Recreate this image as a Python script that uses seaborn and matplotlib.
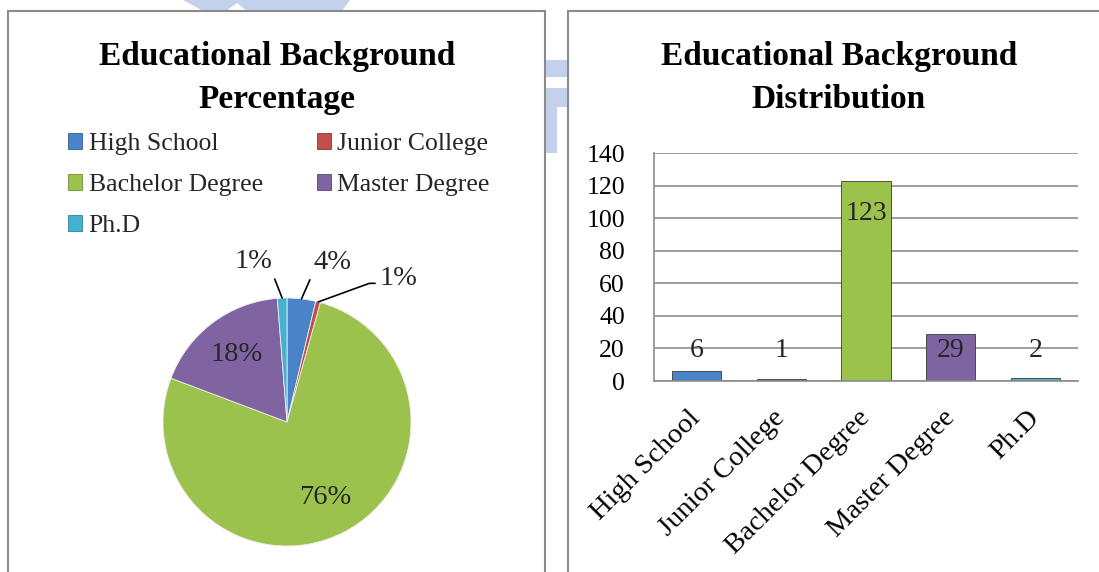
import matplotlib
matplotlib.use("Agg")
import matplotlib.pyplot as plt
import seaborn as sns
import numpy as np
import pandas as pd
from matplotlib.patches import Rectangle, Patch, Polygon

# ---------------- data ----------------
categories = ["High School", "Junior College", "Bachelor Degree", "Master Degree", "Ph.D"]
counts = [6, 1, 123, 29, 2]
y_ticks = [0, 20, 40, 60, 80, 100, 120, 140]
pie_title = ["Educational Background", "Percentage"]
bar_title = ["Educational Background", "Distribution"]

# ---------------- style ----------------
colors = ["#4A84C8", "#C0504D", "#9CC24E", "#8064A2", "#45B0D0"]
edge_colors = ["#2F5F96", "#8E3230", "#6E8E30", "#5A4478", "#2D8299"]
watermark = "#c3d1ec"

sns.set_theme(style="white")
plt.rcParams["font.family"] = ["Liberation Serif", "DejaVu Serif"]

W, H = 1099, 572
fig = plt.figure(figsize=(W / 100, H / 100), dpi=100)
fig.patch.set_facecolor("white")


def fx(px):
    return px / W


def fy(py):
    return 1 - py / H


def fpoly(pts):
    return Polygon([(fx(a), fy(b)) for a, b in pts], closed=True,
                   transform=fig.transFigure, facecolor=watermark,
                   edgecolor="none", zorder=-2)


# faint background watermark of the page behind the charts
for pts in [
    [(183, 0), (350, 0), (342, 11), (247, 11), (237, 3), (226, 11), (203, 11)],
    [(545, 60), (569, 60), (569, 77), (545, 77)],
    [(545, 88), (569, 88), (569, 107), (557, 107), (557, 153), (545, 153)],
]:
    fig.patches.append(fpoly(pts))

# panel borders
for x0, x1 in [(8, 545), (568, 1130)]:
    fig.patches.append(Rectangle((fx(x0), fy(620)), (x1 - x0) / W, (620 - 11) / H,
                                 transform=fig.transFigure, facecolor="white",
                                 edgecolor="#8a8a8a", linewidth=1.5, zorder=-1))

# ---------------- titles ----------------
for cx, lines in [(277, pie_title), (839, bar_title)]:
    for line, base in zip(lines, [65, 108]):
        fig.text(fx(cx), fy(base), line, ha="center", va="baseline",
                 fontsize=24, fontweight="bold", color="black")

# ---------------- pie ----------------
R = 124
pcx, pcy = 287, 422
ax_pie = fig.add_axes([fx(pcx - R), fy(pcy + R), 2 * R / W, 2 * R / H])
wedges, _ = ax_pie.pie(counts, colors=colors, startangle=90, counterclock=False,
                       radius=1, wedgeprops=dict(edgecolor="#eeeeee", linewidth=0.6))
ax_pie.set_xlim(-1, 1)
ax_pie.set_ylim(-1, 1)
ax_pie.axis("off")

total = sum(counts)
outside_layout = {
    "High School": dict(offset=(22, 26), relpos=(0.0, 0.1), cs="arc3"),
    "Junior College": dict(offset=(58, 17), relpos=(0.0, 0.3), cs="angle,angleA=0,angleB=20,rad=0"),
    "Ph.D": dict(offset=(-21, 26), relpos=(1.0, 0.1), cs="arc3"),
}
for w, cat, c in zip(wedges, categories, counts):
    pct = c / total * 100
    label = f"{pct:.0f}%"
    th = np.deg2rad((w.theta1 + w.theta2) / 2)
    if pct >= 10:
        ax_pie.text(0.68 * np.cos(th), 0.68 * np.sin(th), label, ha="center",
                    va="center", fontsize=20.5)
    else:
        lay = outside_layout[cat]
        ax_pie.annotate(label, xy=(np.cos(th), np.sin(th)), xytext=lay["offset"],
                        textcoords="offset points", ha="center", va="center",
                        fontsize=20.5,
                        arrowprops=dict(arrowstyle="-", color="black", lw=1.2,
                                        shrinkA=1, shrinkB=0, relpos=lay["relpos"],
                                        connectionstyle=lay["cs"]))

# legend (row-wise order)
order = [0, 2, 4, 1, 3]
handles = [Patch(facecolor=colors[i], edgecolor=edge_colors[i], linewidth=0.6) for i in order]
labels = [categories[i] for i in order]
fig.legend(handles, labels, loc="upper left", bbox_to_anchor=(fx(68), fy(133)),
           ncol=2, frameon=False, fontsize=18.5, handlelength=0.55, handleheight=0.55,
           handletextpad=0.25, columnspacing=2.1, labelspacing=0.74,
           borderpad=0, borderaxespad=0)

# ---------------- bar ----------------
ax_bar = fig.add_axes([fx(654), fy(381), 424 / W, 228 / H])
df = pd.DataFrame({"category": categories, "count": counts})
sns.barplot(data=df, x="category", y="count", hue="category", palette=colors,
            width=0.58, legend=False, ax=ax_bar, saturation=1,
            edgecolor="#3a3a3a", linewidth=0.6)
ax_bar.set_ylim(0, 140)
ax_bar.set_yticks(y_ticks)
ax_bar.set_xlim(-0.5, 4.5)
ax_bar.yaxis.grid(True, color="#8c8c8c", linewidth=1.2)
ax_bar.set_axisbelow(True)
for s in ["top", "right"]:
    ax_bar.spines[s].set_visible(False)
for s in ["left", "bottom"]:
    ax_bar.spines[s].set_color("#8c8c8c")
    ax_bar.spines[s].set_linewidth(1.2)
ax_bar.set_facecolor("none")
ax_bar.set_xlabel("")
ax_bar.set_ylabel("")
ax_bar.tick_params(axis="y", length=0, pad=21, labelsize=18.5, labelcolor="black")
ax_bar.tick_params(axis="x", length=0, pad=24, labelsize=20.5, labelcolor="black")
for lbl in ax_bar.get_xticklabels():
    lbl.set_rotation(45)
    lbl.set_ha("right")
    lbl.set_va("center")
    lbl.set_rotation_mode("anchor")

for i, v in enumerate(counts):
    ax_bar.text(i, max(v - 20, 19), str(v), ha="center", va="center", fontsize=20)

fig.savefig("out.png", dpi=100, facecolor="white")
